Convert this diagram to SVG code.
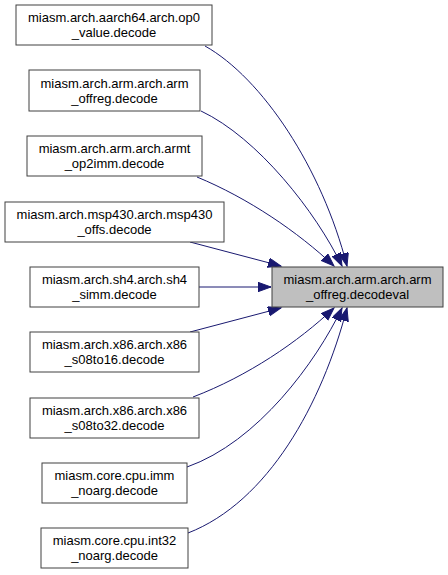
<svg xmlns="http://www.w3.org/2000/svg" width="448" height="575" viewBox="0 0 448 575">
<style>
.n rect{fill:#ffffff;stroke:#404040;stroke-width:1}
.n.t rect{fill:#bfbfbf}
.n text{font-family:"Liberation Sans",Arial,sans-serif;font-size:13px;fill:#000;text-anchor:middle}
.e path{fill:none;stroke:#191970;stroke-width:1;marker-end:url(#ah)}
</style>
<defs>
<marker id="ah" markerWidth="15" markerHeight="11" refX="13" refY="4.7" orient="auto" markerUnits="userSpaceOnUse">
<path d="M0,0 L13,4.7 L0,9.4 z" fill="#191970" stroke="#191970"/>
</marker>
</defs>
<rect width="448" height="575" fill="#ffffff"/>
<g id="edges" class="e">
<path d="M205,46 C262,78 322,168 347,266"/>
<path d="M201,111 C258,138 316,212 342,266"/>
<path d="M197,177 C248,198 298,232 334,266"/>
<path d="M190,242 L281,266"/>
<path d="M199,287 L271,287"/>
<path d="M190,332 L281,308"/>
<path d="M193,397 C248,376 298,342 334,308"/>
<path d="M187,467 C258,442 316,362 342,308"/>
<path d="M188,533 C268,502 322,404 347,308"/>
</g>
<g id="target" class="n t"><rect x="272" y="267" width="171" height="40"/><text x="357.5" y="284">miasm.arch.arm.arch.arm</text><text x="357.5" y="299">_offreg.decodeval</text></g>
<g id="n1" class="n"><rect x="16" y="5" width="196" height="40"/><text x="114" y="22">miasm.arch.aarch64.arch.op0</text><text x="114" y="37">_value.decode</text></g>
<g id="n2" class="n"><rect x="29" y="70" width="171" height="41"/><text x="114.5" y="88">miasm.arch.arm.arch.arm</text><text x="114.5" y="103">_offreg.decode</text></g>
<g id="n3" class="n"><rect x="27" y="136" width="175" height="40"/><text x="114.5" y="153">miasm.arch.arm.arch.armt</text><text x="114.5" y="168">_op2imm.decode</text></g>
<g id="n4" class="n"><rect x="5" y="202" width="219" height="40"/><text x="114.5" y="219">miasm.arch.msp430.arch.msp430</text><text x="114.5" y="234">_offs.decode</text></g>
<g id="n5" class="n"><rect x="30" y="267" width="169" height="40"/><text x="114.5" y="284">miasm.arch.sh4.arch.sh4</text><text x="114.5" y="299">_simm.decode</text></g>
<g id="n6" class="n"><rect x="30" y="332" width="169" height="40"/><text x="114.5" y="349">miasm.arch.x86.arch.x86</text><text x="114.5" y="364">_s08to16.decode</text></g>
<g id="n7" class="n"><rect x="30" y="398" width="169" height="40"/><text x="114.5" y="415">miasm.arch.x86.arch.x86</text><text x="114.5" y="430">_s08to32.decode</text></g>
<g id="n8" class="n"><rect x="42" y="463" width="145" height="40"/><text x="114.5" y="480">miasm.core.cpu.imm</text><text x="114.5" y="495">_noarg.decode</text></g>
<g id="n9" class="n"><rect x="41" y="528" width="147" height="40"/><text x="114.5" y="545">miasm.core.cpu.int32</text><text x="114.5" y="560">_noarg.decode</text></g>
</svg>
